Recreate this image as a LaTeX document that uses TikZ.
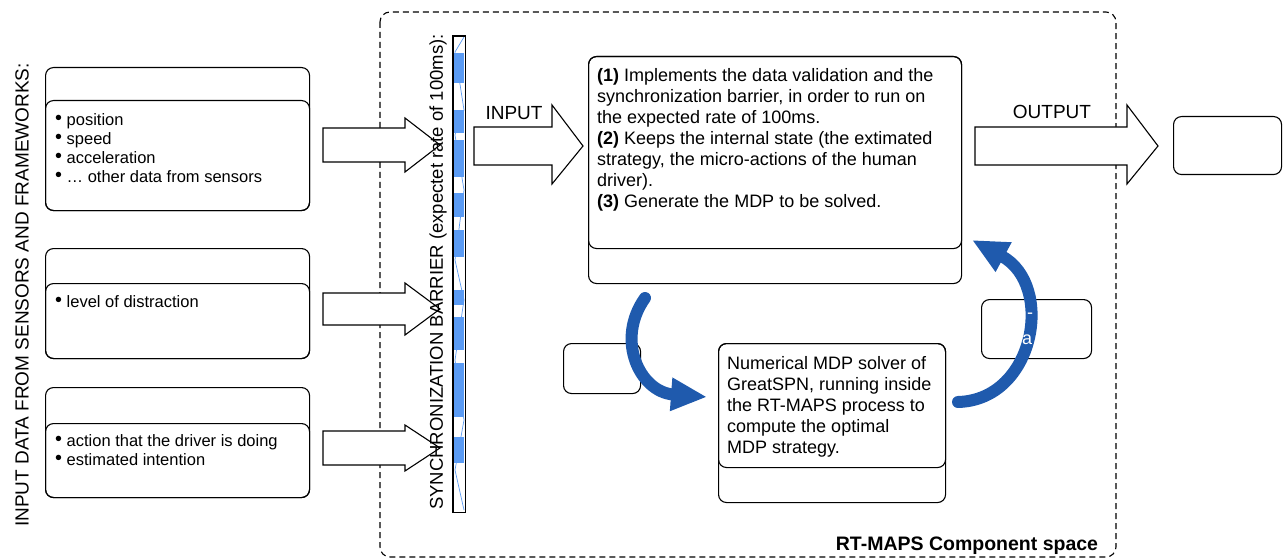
\documentclass[tikz,border=0pt]{standalone}
\usepackage{fontspec}
\setmainfont{Liberation Sans}
\definecolor{rt-blue}{HTML}{1F5AAD}
\definecolor{bar-blue}{HTML}{5A9BF4}
\usetikzlibrary{arrows.meta,positioning}
\newcommand{\blt}{\raisebox{0.5pt}[0pt][0pt]{\scalebox{1.2}{•}}}

\begin{document}
\begin{tikzpicture}[x=1pt,y=-1pt,
  card/.style={rectangle, draw=black, rounded corners=8pt, line width=1.1pt,
               inner sep=0pt, anchor=north west},
  txt/.style={anchor=north west, inner sep=0pt, align=left, font=\fontsize{18}{21}\selectfont},
  bullets/.style={anchor=north west, inner sep=0pt, align=left, font=\fontsize{16.5}{19}\selectfont},
  blockarr/.style={draw=black, fill=white, line width=1.1pt, line join=miter},
  flow/.style={-{Triangle[length=36pt,width=31pt]}, rt-blue, line width=12pt, line cap=round},
  lbl/.style={inner sep=0pt, font=\fontsize{19}{22}\selectfont}]

  \useasboundingbox (0,0) rectangle (1283,559);

  % component space
  \draw[dash pattern=on 6pt off 4pt, line width=1.1pt, rounded corners=10pt] (380,12) rectangle (1116,557);
  \node[lbl, font=\fontsize{19.5}{22}\selectfont\bfseries] (space) at (967,546) {RT-MAPS Component space};

  % input sources
  \node[lbl, rotate=90] (inputs) at (22,295) {INPUT DATA FROM SENSORS AND FRAMEWORKS:};

  \node[card, minimum width=264pt, minimum height=143pt] (srcpos) at (45,67) {};
  \node[card, minimum width=264pt, minimum height=110pt] (srcposbody) at (45,100) {};
  \node[bullets] (srcpostxt) at (55,113) {\blt\ position\\\blt\ speed\\\blt\ acceleration\\\blt\ … other data from sensors};

  \node[card, minimum width=264pt, minimum height=110pt] (srcdist) at (45,248) {};
  \node[card, minimum width=264pt, minimum height=75pt] (srcdistbody) at (45,283) {};
  \node[bullets] (srcdisttxt) at (55,295) {\blt\ level of distraction};

  \node[card, minimum width=264pt, minimum height=110pt] (srcact) at (45,387) {};
  \node[card, minimum width=264pt, minimum height=74pt] (srcactbody) at (45,423) {};
  \node[bullets] (srcacttxt) at (55,434) {\blt\ action that the driver is doing\\\blt\ estimated intention};

  \draw[blockarr] (323,128) -- (405,128) -- (405,118) -- (440,145) -- (405,172) -- (405,162) -- (323,162) -- cycle;
  \draw[blockarr] (323,293) -- (405,293) -- (405,283) -- (440,309) -- (405,335) -- (405,325) -- (323,325) -- cycle;
  \draw[blockarr] (323,431) -- (405,431) -- (405,425) -- (440,448) -- (405,471) -- (405,465) -- (323,465) -- cycle;

  % synchronization barrier
  \node[rectangle, fill=white, minimum width=12pt, minimum height=476pt, inner sep=0pt, anchor=north west] (barrier) at (453,36) {};
  \foreach \ya/\yb in {53/83, 110/133, 140/177, 193/217, 230/257, 290/305, 317/350, 363/417, 437/463}
    \fill[bar-blue] (454,\ya) rectangle (464,\yb);
  \draw[bar-blue, line width=0.7pt] (464,37) -- (455,52) -- (464,110) -- (455,135) -- (464,190)
    -- (455,260) -- (464,300) -- (455,360) -- (464,420) -- (455,470) -- (464,510);
  \draw[line width=1.1pt] (barrier.north west) rectangle (barrier.south east);
  \node[lbl, rotate=90, font=\fontsize{18.5}{22}\selectfont] (barriertxt) at (438,272) {SYNCHRONIZATION BARRIER (expectet rate of 100ms):};

  % main process
  \draw[blockarr] (474,127) -- (552,127) -- (552,105) -- (583,146) -- (552,184) -- (552,165) -- (474,165) -- cycle;
  \node[lbl] (input) at (514,113) {INPUT};

  \node[card, minimum width=373pt, minimum height=227pt] (mainproc) at (588,56) {};
  \node[card, minimum width=373pt, minimum height=192pt] (mainproctop) at (588,56) {};
  \node[txt] (mainproctxt) at (597,68) {\textbf{(1)} Implements the data validation and the\\
    synchronization barrier, in order to run on\\
    the expected rate of 100ms.\\
    \textbf{(2)} Keeps the internal state (the extimated\\
    strategy, the micro-actions of the human\\
    driver).\\
    \textbf{(3)} Generate the MDP to be solved.};

  \draw[blockarr] (975,127) -- (1127,127) -- (1127,105) -- (1158,146) -- (1127,184) -- (1127,165) -- (975,165) -- cycle;
  \node[lbl] (output) at (1052,112) {OUTPUT};
  \node[card, minimum width=108pt, minimum height=58pt] (outbox) at (1173,116) {};

  % solver
  \node[card, minimum width=77pt, minimum height=50pt] (auxbox) at (563,343) {};
  \node[card, minimum width=227pt, minimum height=159pt] (mdpsolver) at (718,343) {};
  \node[card, minimum width=227pt, minimum height=124pt] (mdpsolvertop) at (718,343) {};
  \node[txt] (mdpsolvertxt) at (727,356) {Numerical MDP solver of\\GreatSPN, running inside\\the RT-MAPS process to\\compute the optimal\\MDP strategy.};

  \node[card, minimum width=110pt, minimum height=59pt] (stratbox) at (981,299) {};

  % loop between process and solver
  \coordinate (mainout) at (645,298);
  \coordinate (mdpin) at (707,397);
  \coordinate (mdpout) at (958,402);
  \coordinate (mainin) at (972,240);
  \draw[flow] (mainout) .. controls (615,340) and (640,392) .. (mdpin);
  \draw[flow] (mdpout) .. controls (1035,400) and (1055,285) .. (mainin);
  \node[lbl, white, font=\fontsize{18}{21}\selectfont] (stratdash) at (1030,316) {-};
  \node[lbl, white, font=\fontsize{18}{21}\selectfont] (strata) at (1027,340) {a};

\end{tikzpicture}
\end{document}
